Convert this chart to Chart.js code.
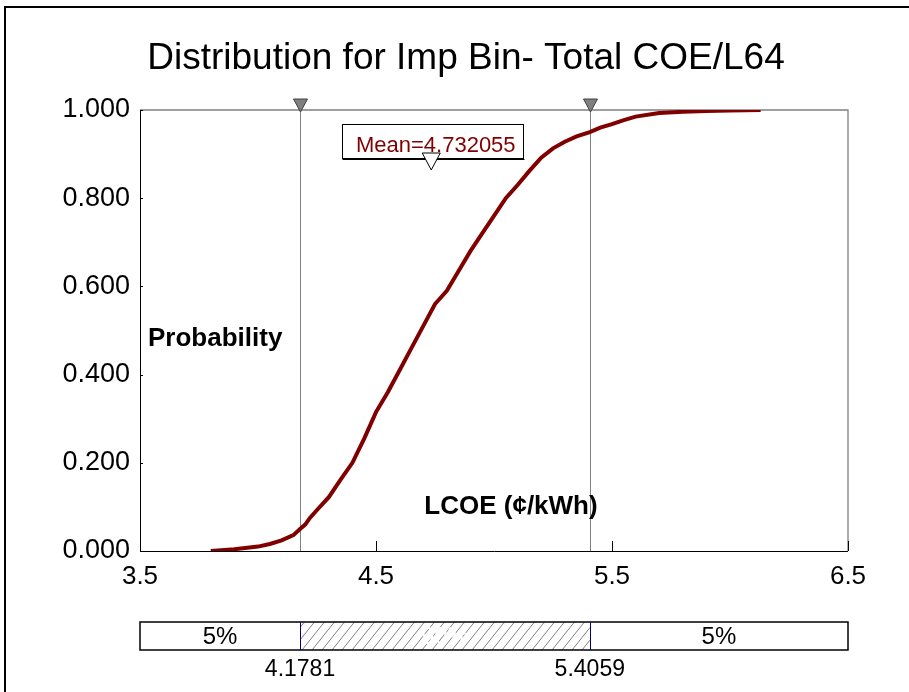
<!DOCTYPE html>
<html>
<head>
<meta charset="utf-8">
<script src="https://cdn.jsdelivr.net/npm/chart.js@4.4.0/dist/chart.umd.min.js"></script>
<style>
  body { margin: 0; background: #fff; }
  canvas { display: block; }
</style>
</head>
<body>
<canvas id="chart" width="909" height="692"></canvas>
<script>
'use strict';

// LCOE values (cents/kWh) and cumulative probability
let cdfX = [3.80, 3.90, 4.00, 4.05, 4.10, 4.15, 4.178, 4.20, 4.22, 4.25, 4.30, 4.35, 4.40,
  4.45, 4.50, 4.55, 4.60, 4.65, 4.70, 4.75, 4.80, 4.85, 4.90, 4.95, 5.00, 5.05, 5.10,
  5.15, 5.20, 5.25, 5.30, 5.35, 5.406, 5.45, 5.50, 5.55, 5.60, 5.70, 5.80, 5.90, 6.00, 6.13];
let cdfP = [0.000, 0.004, 0.010, 0.016, 0.024, 0.036, 0.050, 0.060, 0.075, 0.093, 0.122, 0.162, 0.200,
  0.255, 0.315, 0.360, 0.410, 0.460, 0.510, 0.560, 0.590, 0.635, 0.680, 0.720, 0.760, 0.800, 0.830,
  0.862, 0.892, 0.913, 0.928, 0.940, 0.950, 0.960, 0.968, 0.977, 0.985, 0.993, 0.996, 0.998, 0.999, 1.000];

let xTickValues = [3.5, 4.5, 5.5, 6.5];
let yTickValues = [0, 0.2, 0.4, 0.6, 0.8, 1.0];

let lowerBound = 4.1781;
let upperBound = 5.4059;
let meanValue = 4.732055;
let bandPercents = ['5%', '90%', '5%'];

let titleText = 'Distribution for Imp Bin- Total COE/L64';
let yTitle = 'Probability';
let xTitle = 'LCOE (\u00a2/kWh)';

let FONT = '"Liberation Sans", Arial, sans-serif';

let points = [];
for (let i = 0; i < cdfX.length; i++) {
  points.push({ x: cdfX[i], y: cdfP[i] });
}

function downTriangle(ctx, cx, top, half, height, fill, stroke) {
  ctx.beginPath();
  ctx.moveTo(cx - half, top);
  ctx.lineTo(cx + half, top);
  ctx.lineTo(cx, top + height);
  ctx.closePath();
  ctx.fillStyle = fill;
  ctx.fill();
  ctx.strokeStyle = stroke;
  ctx.lineWidth = 1;
  ctx.stroke();
}

let decor = {
  id: 'decor',
  beforeDatasetsDraw(chart) {
    let ctx = chart.ctx;
    let a = chart.chartArea;
    let xs = chart.scales.x;
    let ys = chart.scales.y;
    ctx.save();

    // outer frame
    ctx.strokeStyle = '#000';
    ctx.lineWidth = 2;
    ctx.strokeRect(5, 7, 2000, 2000);

    // title
    ctx.fillStyle = '#000';
    ctx.font = '37px ' + FONT;
    ctx.textAlign = 'center';
    ctx.textBaseline = 'alphabetic';
    ctx.fillText(titleText, 466, 69);

    // plot frame: top/right gray, left/bottom black
    ctx.lineWidth = 1.3;
    ctx.strokeStyle = '#808080';
    ctx.beginPath();
    ctx.moveTo(a.left, a.top);
    ctx.lineTo(a.right, a.top);
    ctx.lineTo(a.right, a.bottom);
    ctx.stroke();
    ctx.lineWidth = 1;
    ctx.strokeStyle = '#000';
    ctx.beginPath();
    ctx.moveTo(a.left + 0.5, a.top);
    ctx.lineTo(a.left + 0.5, a.bottom + 0.5);
    ctx.lineTo(a.right, a.bottom + 0.5);
    ctx.stroke();

    // inside ticks
    ctx.beginPath();
    xs.ticks.forEach(t => {
      let px = Math.round(xs.getPixelForValue(t.value)) + 0.5;
      ctx.moveTo(px, a.bottom);
      ctx.lineTo(px, a.bottom - 10);
    });
    ys.ticks.forEach(t => {
      let py = Math.round(ys.getPixelForValue(t.value)) + 0.5;
      ctx.moveTo(a.left, py);
      ctx.lineTo(a.left + 3, py);
    });
    ctx.stroke();

    // 5% / 95% reference lines
    ctx.strokeStyle = '#808080';
    ctx.lineWidth = 1;
    [lowerBound, upperBound].forEach(v => {
      let px = Math.round(xs.getPixelForValue(v)) + 0.5;
      ctx.beginPath();
      ctx.moveTo(px, a.top);
      ctx.lineTo(px, a.bottom);
      ctx.stroke();
    });

    // axis titles inside the plot
    ctx.fillStyle = '#000';
    ctx.font = 'bold 26px ' + FONT;
    ctx.textAlign = 'left';
    ctx.fillText(yTitle, 148, 346);
    ctx.textAlign = 'center';
    ctx.fillText(xTitle, 511, 514);
    ctx.restore();
  },
  afterDraw(chart) {
    let ctx = chart.ctx;
    let a = chart.chartArea;
    let xs = chart.scales.x;
    ctx.save();

    let lowPx = xs.getPixelForValue(lowerBound);
    let upPx = xs.getPixelForValue(upperBound);
    let meanPx = xs.getPixelForValue(meanValue);

    // markers on top of the reference lines
    downTriangle(ctx, Math.round(lowPx) + 0.5, 99, 7, 13, '#808080', '#404040');
    downTriangle(ctx, Math.round(upPx) + 0.5, 99, 7, 13, '#808080', '#404040');

    // mean label box
    let bw = 181, bh = 34, bx = Math.round(meanPx - bw / 2) + 2.5, by = 124.5;
    ctx.fillStyle = '#fff';
    ctx.fillRect(bx, by, bw, bh);
    ctx.strokeStyle = '#000';
    ctx.lineWidth = 1;
    ctx.strokeRect(bx, by, bw, bh);
    ctx.beginPath();
    ctx.moveTo(bx, by + bh + 1);
    ctx.lineTo(bx + bw + 1, by + bh + 1);
    ctx.stroke();
    ctx.fillStyle = '#800000';
    ctx.font = '22px ' + FONT;
    ctx.textAlign = 'center';
    ctx.textBaseline = 'alphabetic';
    ctx.fillText('Mean=' + meanValue.toFixed(6), meanPx + 5, by + 27);
    downTriangle(ctx, meanPx + 0.5, 153, 9, 17, '#fff', '#000');

    // percentile band bar
    let top = 622, h = 28;
    let left = a.left, right = a.right;
    ctx.save();
    ctx.beginPath();
    ctx.rect(lowPx, top, upPx - lowPx, h);
    ctx.clip();
    ctx.strokeStyle = '#808080';
    ctx.lineWidth = 1;
    ctx.beginPath();
    for (let x0 = lowPx - h; x0 < upPx + h; x0 += 10) {
      ctx.moveTo(x0, top + h);
      ctx.lineTo(x0 + h * 0.8, top);
    }
    ctx.stroke();
    ctx.restore();

    ctx.strokeStyle = '#000';
    ctx.lineWidth = 1.5;
    ctx.strokeRect(left, top, right - left, h);
    ctx.strokeStyle = '#000080';
    ctx.lineWidth = 1;
    [lowPx, upPx].forEach(px => {
      ctx.beginPath();
      ctx.moveTo(Math.round(px) + 0.5, top);
      ctx.lineTo(Math.round(px) + 0.5, top + h);
      ctx.stroke();
    });

    ctx.font = '24px ' + FONT;
    ctx.textAlign = 'center';
    ctx.textBaseline = 'middle';
    ctx.fillStyle = '#000';
    ctx.fillText(bandPercents[0], (left + lowPx) / 2, top + h / 2 + 1);
    ctx.fillText(bandPercents[2], (upPx + right) / 2, top + h / 2 + 1);
    ctx.fillStyle = '#fff';
    ctx.fillText(bandPercents[1], (lowPx + upPx) / 2, top + h / 2 + 1);

    ctx.fillStyle = '#000';
    ctx.font = '23px ' + FONT;
    ctx.textBaseline = 'alphabetic';
    ctx.fillText(lowerBound.toFixed(4), lowPx, 676);
    ctx.fillText(upperBound.toFixed(4), upPx, 676);
    ctx.restore();
  }
};

let config = {
  type: 'scatter',
  data: {
    datasets: [{
      data: points,
      showLine: true,
      borderColor: '#800000',
      borderWidth: 4,
      pointRadius: 0,
      tension: 0
    }]
  },
  options: {
    responsive: false,
    animation: false,
    layout: { padding: { top: 110, left: 0, right: 61, bottom: 101 } },
    plugins: {
      legend: { display: false },
      tooltip: { enabled: false },
      title: { display: false }
    },
    scales: {
      x: {
        type: 'linear',
        min: 3.5,
        max: 6.5,
        afterBuildTicks: s => { s.ticks = xTickValues.map(v => ({ value: v })); },
        afterFit: s => { s.height = 40; },
        grid: { display: false, drawTicks: false },
        border: { display: false },
        ticks: {
          autoSkip: false,
          maxRotation: 0,
          padding: 10,
          color: '#000',
          font: { family: FONT, size: 26 },
          callback: v => Number(v).toFixed(1)
        }
      },
      y: {
        min: 0,
        max: 1,
        afterBuildTicks: s => { s.ticks = yTickValues.map(v => ({ value: v })); },
        afterFit: s => { s.width = 140; },
        grid: { display: false, drawTicks: false },
        border: { display: false },
        ticks: {
          padding: 10,
          color: '#000',
          font: { family: FONT, size: 27 },
          callback: v => Number(v).toFixed(3)
        }
      }
    }
  },
  plugins: [decor]
};

new Chart(document.getElementById('chart'), config);
</script>
</body>
</html>
